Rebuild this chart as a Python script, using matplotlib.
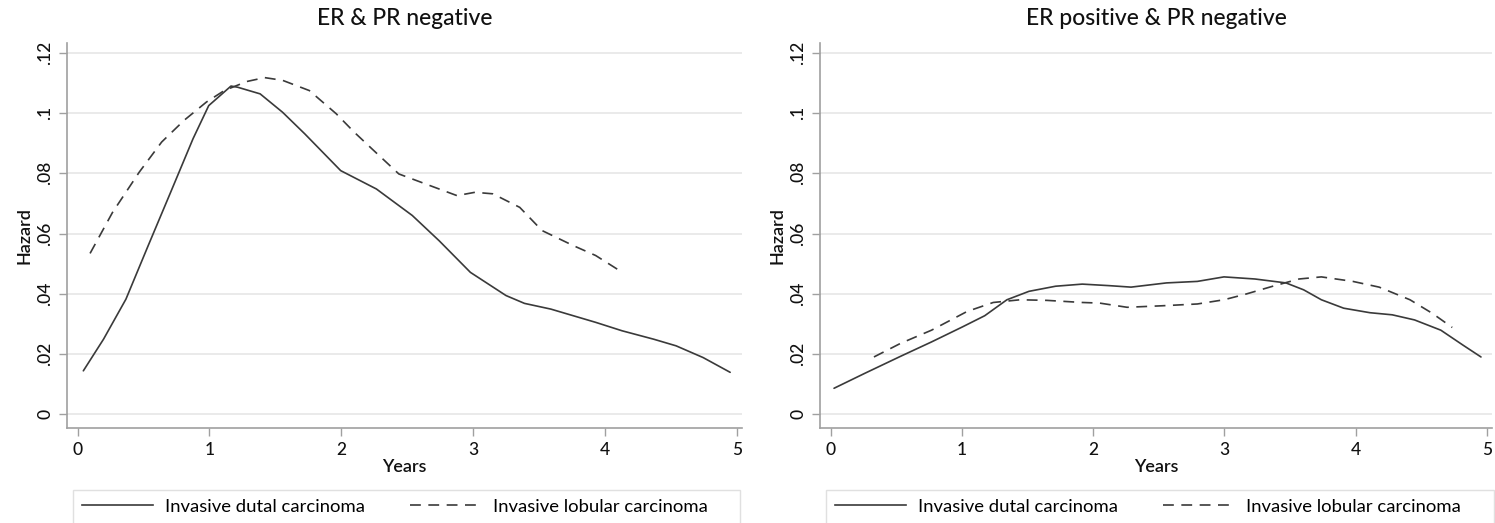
import matplotlib
matplotlib.use("Agg")
import matplotlib.pyplot as plt
from matplotlib.lines import Line2D
from matplotlib.patches import Rectangle

plt.rcParams['font.family'] = ['Lato', 'DejaVu Sans']

# ---- data ----
titles = ["ER & PR negative", "ER positive & PR negative"]
series_labels = ["Invasive dutal carcinoma", "Invasive lobular carcinoma"]
yticks = [0, 0.02, 0.04, 0.06, 0.08, 0.10, 0.12]
yticklabels = ["0", ".02", ".04", ".06", ".08", ".1", ".12"]
xticks = [0, 1, 2, 3, 4, 5]

# Left panel: ER & PR negative
idc_neg_x = [0.044, 0.197, 0.367, 0.536, 0.706, 0.876, 0.995, 1.164, 1.215, 1.385,
             1.555, 1.724, 1.996, 2.267, 2.539, 2.743, 2.98, 3.25, 3.39, 3.59,
             3.93, 4.13, 4.37, 4.54, 4.745, 4.95]
idc_neg_y = [0.0144, 0.0249, 0.0382, 0.056, 0.0737, 0.0915, 0.1025, 0.109, 0.1086, 0.1064,
             0.1003, 0.0931, 0.0809, 0.0748, 0.066, 0.0576, 0.0471, 0.0394, 0.0368, 0.0349,
             0.0305, 0.0277, 0.0249, 0.0227, 0.0188, 0.0139]
ilc_neg_x = [0.095, 0.265, 0.468, 0.638, 0.808, 0.978, 1.113, 1.283, 1.419, 1.555,
             1.758, 1.962, 2.098, 2.234, 2.437, 2.675, 2.878, 3.014, 3.15, 3.354,
             3.523, 3.76, 3.93, 4.1]
ilc_neg_y = [0.0534, 0.067, 0.0804, 0.0904, 0.0976, 0.1037, 0.1075, 0.1105, 0.1118, 0.1109,
             0.1075, 0.0998, 0.0937, 0.0881, 0.0798, 0.0759, 0.0726, 0.0737, 0.0732, 0.0687,
             0.061, 0.056, 0.0527, 0.048]

# Right panel: ER positive & PR negative
idc_pos_x = [0.027, 0.263, 0.533, 0.77, 1.006, 1.175, 1.344, 1.512, 1.715, 1.918,
             2.12, 2.29, 2.56, 2.795, 2.998, 3.234, 3.47, 3.605, 3.74, 3.91,
             4.11, 4.28, 4.45, 4.65, 4.82, 4.956]
idc_pos_y = [0.0086, 0.0136, 0.0192, 0.024, 0.029, 0.0327, 0.038, 0.0408, 0.0425, 0.0432,
             0.0427, 0.0422, 0.0436, 0.0441, 0.0456, 0.0449, 0.0436, 0.0413, 0.038, 0.0352,
             0.0337, 0.033, 0.0313, 0.0279, 0.0229, 0.019]
ilc_pos_x = [0.331, 0.533, 0.77, 1.04, 1.24, 1.445, 1.648, 1.918, 2.05, 2.26,
             2.525, 2.795, 2.998, 3.166, 3.37, 3.57, 3.74, 3.98, 4.18, 4.415,
             4.585, 4.737]
ilc_pos_y = [0.019, 0.0235, 0.0279, 0.0341, 0.0371, 0.038, 0.0378, 0.0371, 0.0369, 0.0355,
             0.036, 0.0366, 0.038, 0.0399, 0.0425, 0.0449, 0.0456, 0.0441, 0.0422, 0.038,
             0.0335, 0.0288]

panels = [
    (titles[0], (idc_neg_x, idc_neg_y), (ilc_neg_x, ilc_neg_y)),
    (titles[1], (idc_pos_x, idc_pos_y), (ilc_pos_x, ilc_pos_y)),
]

W, H = 1495, 523
fig = plt.figure(figsize=(W / 100, H / 100), dpi=100)

axes_px = [(67, 742), (820, 1492)]
top_px, bot_px = 43, 428
legend_px = [(73, 740), (826, 1494)]

line_color = "#3a3a3a"
spine_color = "#a0a0a0"
grid_color = "#e6e6e6"
dash = (0, (6.5, 4.5))
FS_LEG = 13.3

for (title, idc, ilc), (l, r), (ll, lr) in zip(panels, axes_px, legend_px):
    ax = fig.add_axes([l / W, 1 - bot_px / H, (r - l) / W, (bot_px - top_px) / H])
    ax.plot(idc[0], idc[1], color=line_color, lw=1.2, solid_capstyle='round')
    ax.plot(ilc[0], ilc[1], color=line_color, lw=1.2, linestyle=dash)
    ax.set_xlim(-0.08, 5.04)
    ax.set_ylim(-0.0046, 0.1233)
    ax.set_yticks(yticks)
    ax.set_yticklabels(yticklabels, rotation=90, va='center')
    ax.set_xticks(xticks)
    ax.grid(axis='y', color=grid_color, lw=1.2)
    ax.set_axisbelow(True)
    for s in ['top', 'right']:
        ax.spines[s].set_visible(False)
    for s in ['left', 'bottom']:
        ax.spines[s].set_color(spine_color)
        ax.spines[s].set_linewidth(1.2)
    ax.tick_params(axis='both', colors=spine_color, length=6, width=1.0,
                   labelcolor='#111111', labelsize=12.5, pad=4)
    for t in ax.get_xticklabels() + ax.get_yticklabels():
        t.set_fontweight('medium')
    ax.set_title(title, fontsize=16.5, pad=13, color='#111111', fontweight='medium')
    ax.set_xlabel("Years", fontsize=13, fontweight='semibold', labelpad=1, color='#111111')
    ax.set_ylabel("Hazard", fontsize=13, fontweight='semibold', labelpad=3, color='#111111')

    # legend box below the panel
    lw_px = lr - ll
    lax = fig.add_axes([ll / W, 0, lw_px / W, (H - 490) / H])
    lax.set_xlim(0, 1)
    lax.set_ylim(0, 1)
    lax.axis('off')
    lax.add_patch(Rectangle((0, -0.5), 1, 1.5, fill=False, edgecolor='#e0e0e0',
                            lw=1.0, transform=lax.transAxes, clip_on=False))
    handles = [Line2D([], [], color=line_color, lw=1.2),
               Line2D([], [], color=line_color, lw=1.2, linestyle=dash)]
    fs_px = FS_LEG * 100 / 72
    lax.legend(handles, series_labels, loc='center left', ncol=2, frameon=False,
               fontsize=FS_LEG, handlelength=71 / fs_px, handletextpad=12 / fs_px,
               columnspacing=45 / fs_px, borderpad=0, borderaxespad=0,
               bbox_to_anchor=(9 / lw_px, 0.5))

fig.savefig("out.png", dpi=100)
